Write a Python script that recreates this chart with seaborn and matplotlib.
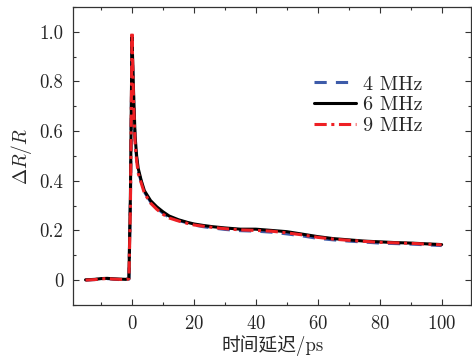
import numpy as np
import pandas as pd
import matplotlib
matplotlib.use('Agg')
import matplotlib.pyplot as plt
from matplotlib.ticker import MultipleLocator
import seaborn as sns

# delay times (ps) and normalised dR/R for each repetition rate
t = [-15, -12, -10, -8, -6, -4, -2, -1, -0.5, 0, 0.5, 1, 1.5, 2, 3, 4, 5, 6, 8, 10,
     12, 15, 18, 20, 23, 26, 30, 35, 40, 45, 50, 55, 60, 65, 70, 75, 80, 85, 90, 95, 100]

r4 = [0, 0.002, 0.004, 0.006, 0.004, 0.002, 0.002, 0.004, 0.32, 0.95, 0.74, 0.56, 0.49, 0.44,
      0.395, 0.355, 0.335, 0.315, 0.29, 0.27, 0.252, 0.24, 0.23, 0.222, 0.215, 0.21, 0.204,
      0.199, 0.197, 0.193, 0.186, 0.178, 0.168, 0.162, 0.157, 0.153, 0.149, 0.147, 0.145,
      0.142, 0.139]
r6 = [0.001, 0.003, 0.006, 0.007, 0.005, 0.004, 0.003, 0.006, 0.35, 0.98, 0.76, 0.58, 0.5,
      0.45, 0.4, 0.36, 0.34, 0.32, 0.295, 0.275, 0.258, 0.243, 0.232, 0.226, 0.22, 0.215,
      0.21, 0.205, 0.205, 0.2, 0.195, 0.185, 0.175, 0.167, 0.162, 0.157, 0.154, 0.151,
      0.149, 0.146, 0.143]
r9 = [0, 0.002, 0.005, 0.006, 0.004, 0.003, 0.002, 0.005, 0.3, 1.0, 0.72, 0.55, 0.48, 0.43,
      0.39, 0.35, 0.33, 0.31, 0.285, 0.265, 0.25, 0.238, 0.228, 0.222, 0.217, 0.212, 0.207,
      0.202, 0.2, 0.197, 0.19, 0.182, 0.172, 0.165, 0.16, 0.156, 0.152, 0.15, 0.148, 0.145,
      0.142]

labels = ['4 MHz', '6 MHz', '9 MHz']
yticks = [0, 0.2, 0.4, 0.6, 0.8, 1.0]
yticklabels = ['0', '0.2', '0.4', '0.6', '0.8', '1.0']
xticks = [0, 20, 40, 60, 80, 100]

sns.set_style('ticks')
plt.rcParams['font.family'] = ['cmr10', 'Noto Sans CJK SC']
plt.rcParams['mathtext.fontset'] = 'cm'
plt.rcParams['axes.formatter.use_mathtext'] = True

fig = plt.figure(figsize=(4.72, 3.63), dpi=100)
ax = fig.add_axes([0.155, 0.16, 0.843, 0.821])

sns.lineplot(x=t, y=r4, ax=ax, color='#3d5ba9', lw=2.2, label=labels[0])
ax.lines[-1].set_dashes([4, 3])
sns.lineplot(x=t, y=r6, ax=ax, color='black', lw=2.2, label=labels[1])
sns.lineplot(x=t, y=r9, ax=ax, color='#ee2024', lw=2.2, label=labels[2])
ax.lines[-1].set_dashes([4, 1.5, 1, 1.5])

ax.set_xlim(-19, 109.5)
ax.set_ylim(-0.1, 1.1)
ax.set_xticks(xticks)
ax.set_yticks(yticks)
ax.set_yticklabels(yticklabels)
ax.xaxis.set_minor_locator(MultipleLocator(10))
ax.yaxis.set_minor_locator(MultipleLocator(0.1))
ax.tick_params(which='both', direction='in', top=True, right=True, labelsize=13.5,
               color='#333333', width=0.8, pad=7)
ax.tick_params(which='major', length=4)
ax.tick_params(which='minor', length=2.5)
for s in ax.spines.values():
    s.set_color('#333333')
    s.set_linewidth(0.9)

ax.set_xlabel('时间延迟/ps', fontsize=13.5, labelpad=2)
ax.set_ylabel(r'$\Delta R/R$', fontsize=14, labelpad=4)

leg = ax.legend(loc='upper left', bbox_to_anchor=(0.605, 0.77), frameon=False,
                fontsize=14.5, handlelength=2.1, handletextpad=0.35, labelspacing=0.12,
                borderpad=0, borderaxespad=0)

fig.savefig('out.png', dpi=100)
